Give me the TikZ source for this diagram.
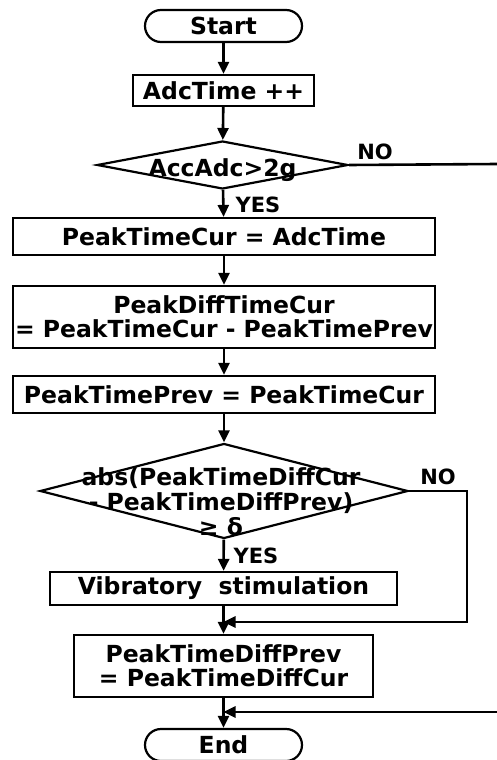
\documentclass[tikz,border=0pt]{standalone}
\usepackage{fontspec}
\setmainfont{DejaVu Sans}
\usetikzlibrary{shapes.geometric,shapes.misc,arrows.meta}
\begin{document}
\begin{tikzpicture}[x=1pt,y=-1pt,
  every node/.style={font=\fontsize{23.5}{24}\selectfont\bfseries, inner sep=0pt},
  box/.style={draw, line width=2.2pt, rectangle, align=center},
  term/.style={draw, line width=2.2pt, rounded rectangle, minimum width=157pt, minimum height=32pt},
  dia/.style={draw, line width=2.2pt, diamond, minimum width=#1},
  conn/.style={line width=2.6pt, -{Triangle[length=12pt,width=11pt]}},
  plain/.style={line width=2.6pt},
  lbl/.style={font=\fontsize{21}{22}\selectfont\bfseries}
]
\useasboundingbox (0,0) rectangle (497,760);
\node[term] (start) at (223.5,26) {Start};
\node[box, minimum width=181pt, minimum height=31pt] (adc) at (223.5,90.5) {AdcTime ++};
\node[dia=251pt, minimum height=48pt] (d1) at (222.5,165) {};
\node (d1t) at (222.5,170) {AccAdc>2g};
\node[box, minimum width=422pt, minimum height=37pt] (ptc) at (224,236.5) {PeakTimeCur = AdcTime};
\node[box, minimum width=422pt, minimum height=62pt] (pdc) at (224,317) {PeakDiffTimeCur\\= PeakTimeCur - PeakTimePrev};
\node[box, minimum width=422pt, minimum height=37pt] (ptp) at (224,394.5) {PeakTimePrev = PeakTimeCur};
\node[dia=368pt, minimum height=95pt] (d2) at (224,491) {};
\node[align=center, font=\fontsize{23.5}{25}\selectfont\bfseries] (d2t) at (221,502) {abs(PeakTimeDiffCur\\- PeakTimeDiffPrev)\\≥ δ};
\node[box, minimum width=347pt, minimum height=33pt] (vib) at (223.5,588.5) {Vibratory\ \ stimulation};
\node[box, minimum width=299pt, minimum height=62pt] (ptdp) at (223.5,666) {PeakTimeDiffPrev\\= PeakTimeDiffCur};
\node[term] (end) at (223.5,745) {End};

\node[lbl] (no1) at (375,152) {NO};
\node[lbl] (yes1) at (258,205) {YES};
\node[lbl] (no2) at (438,477) {NO};
\node[lbl] (yes2) at (256,556) {YES};

\coordinate (n1) at (497,164);
\coordinate (c2) at (467,622);
\coordinate (r1) at (497,712);

\draw[conn] (start) -- (adc);
\draw[conn] (adc) -- (d1);
\draw[conn] (d1) -- (ptc);
\draw[conn] (ptc) -- (pdc);
\draw[conn] (pdc) -- (ptp);
\draw[conn] (ptp) -- (d2);
\draw[conn] (d2) -- (vib);
\draw[conn] (vib) -- (ptdp);
\draw[conn] (ptdp) -- (end);
\draw[plain] (d1.east) -- (n1);
\draw[conn] (d2.east) -| (c2) -- (c2 -| vib.south);
\draw[conn] (r1) -- (r1 -| ptdp.south);
\end{tikzpicture}
\end{document}
